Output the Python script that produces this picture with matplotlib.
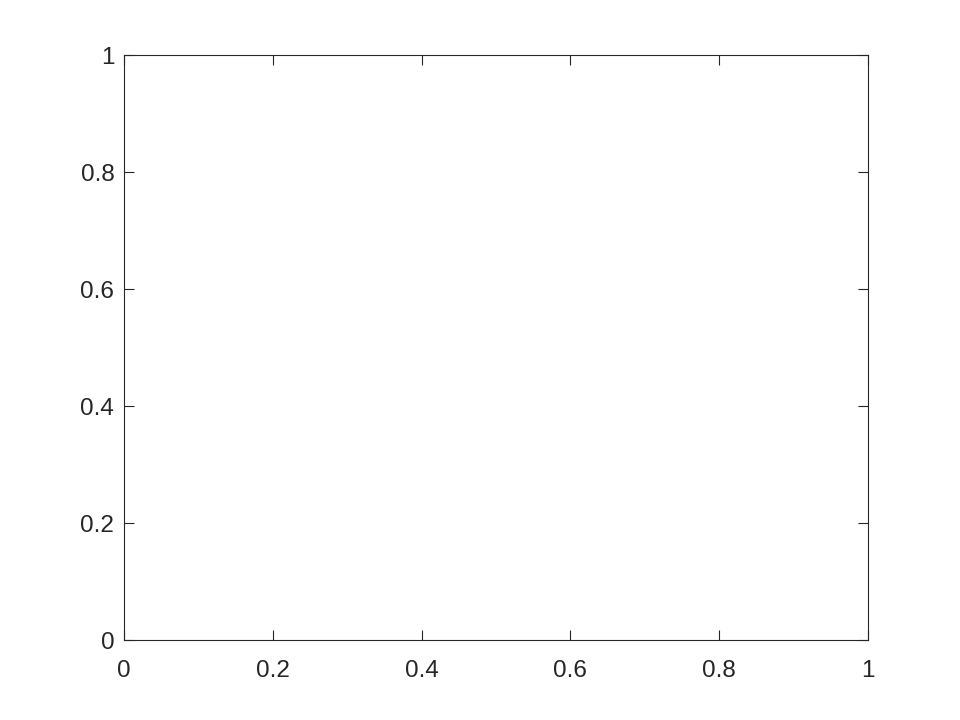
import matplotlib
matplotlib.use("Agg")
import matplotlib.pyplot as plt

xticks = [0, 0.2, 0.4, 0.6, 0.8, 1]
yticks = [0, 0.2, 0.4, 0.6, 0.8, 1]
xlabels = ["0", "0.2", "0.4", "0.6", "0.8", "1"]
ylabels = ["0", "0.2", "0.4", "0.6", "0.8", "1"]

plt.rcParams['font.family'] = ['Liberation Sans', 'DejaVu Sans']
fig = plt.figure(figsize=(9.6, 7.2), dpi=100)
ax = fig.add_axes([0.1292, 0.111, 0.775, 0.8125])
ax.set_xlim(0, 1)
ax.set_ylim(0, 1)
ax.set_xticks(xticks)
ax.set_xticklabels(xlabels)
ax.set_yticks(yticks)
ax.set_yticklabels(ylabels)
col = '#262626'
for s in ax.spines.values():
    s.set_color(col)
    s.set_linewidth(0.8)
ax.tick_params(direction='in', top=True, right=True, length=7, width=0.8,
               color=col, labelcolor=col, labelsize=17.5)
ax.tick_params(axis='x', pad=14)
ax.tick_params(axis='y', pad=7)
fig.savefig("out.png", dpi=100)
